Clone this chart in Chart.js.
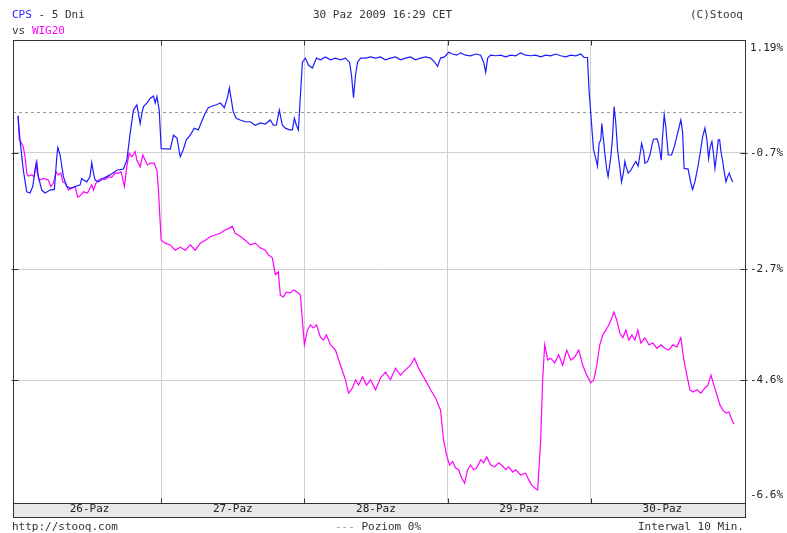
<!DOCTYPE html>
<html>
<head>
<meta charset="utf-8">
<title>CPS vs WIG20 - 5 Dni</title>
<script src="https://cdn.jsdelivr.net/npm/chart.js@4.4.0/dist/chart.umd.min.js"></script>
<style>
  html, body { margin: 0; padding: 0; background: #fff; }
  #wrap { position: relative; width: 787px; height: 533px; font: 11px "DejaVu Sans Mono", monospace; color: #333; }
  #wrap canvas { position: absolute; left: 0; top: 0; }
  .t { position: absolute; white-space: pre; line-height: 13px; }
</style>
</head>
<body>
<div id="wrap">
  <canvas id="chart" width="787" height="533"></canvas>
  <div class="t" style="left:12px;top:8px"><span style="color:#2a2aff">CPS</span> - 5 Dni</div>
  <div class="t" style="left:12px;top:24px">vs <span style="color:#ff00ff">WIG20</span></div>
  <div class="t" style="left:313px;top:8px">30 Paz 2009 16:29 CET</div>
  <div class="t" style="left:690px;top:8px">(C)Stooq</div>
  <div class="t" style="left:12px;top:520px">http://stooq.com</div>
  <div class="t" style="left:335px;top:520px"><span style="color:#999">---</span> Poziom 0%</div>
  <div class="t" style="left:638px;top:520px">Interwal 10 Min.</div>
</div>
<script>
  // ── Data ──────────────────────────────────────────────────────────────────
  // x = trading day (0..5, one unit per session), y = % change
  const dayLabels   = ['26-Paz', '27-Paz', '28-Paz', '29-Paz', '30-Paz'];
  const yTickValues = [1.23, -0.7, -2.7, -4.6, -6.7];
  const yTickLabels = ['1.19%', '-0.7%', '-2.7%', '-4.6%', '-6.6%'];

  const cpsSeries = [
    [0,-0.07],[0.014,-0.48],[0.037,-1.00],[0.061,-1.37],[0.084,-1.39],[0.103,-1.28],[0.119,-1.00],[0.131,-0.86],
    [0.142,-1.11],[0.166,-1.34],[0.189,-1.39],[0.224,-1.34],[0.254,-1.33],[0.271,-0.77],[0.278,-0.61],[0.294,-0.74],
    [0.317,-1.11],[0.341,-1.28],[0.364,-1.31],[0.399,-1.28],[0.434,-1.25],[0.445,-1.14],[0.457,-1.17],[0.480,-1.20],
    [0.503,-1.11],[0.515,-0.87],[0.527,-1.05],[0.538,-1.17],[0.562,-1.20],[0.597,-1.14],[0.643,-1.08],[0.690,-1.00],
    [0.736,-0.98],[0.760,-0.83],[0.783,-0.37],[0.806,0.03],[0.830,0.12],[0.853,-0.20],[0.865,-0.03],[0.876,0.09],
    [0.900,0.15],[0.923,0.23],[0.946,0.27],[0.958,0.15],[0.970,0.26],[0.986,0.03],[1.000,-0.63],
    [1.063,-0.64],[1.086,-0.40],[1.110,-0.45],[1.133,-0.77],[1.154,-0.65],[1.175,-0.48],[1.203,-0.40],[1.231,-0.28],
    [1.259,-0.31],[1.287,-0.14],[1.308,-0.02],[1.329,0.07],[1.357,0.10],[1.385,0.12],[1.413,0.15],[1.441,0.07],
    [1.462,0.24],[1.476,0.41],[1.490,0.20],[1.503,0.00],[1.524,-0.11],[1.552,-0.14],[1.587,-0.17],[1.622,-0.17],
    [1.657,-0.23],[1.692,-0.19],[1.727,-0.21],[1.762,-0.14],[1.783,-0.23],[1.804,-0.23],[1.825,0.03],[1.846,-0.23],
    [1.867,-0.28],[1.895,-0.31],[1.916,-0.31],[1.930,-0.11],[1.944,-0.23],[1.958,-0.31],[1.986,0.85],
    [2.007,0.92],[2.028,0.80],[2.056,0.75],[2.084,0.92],[2.112,0.89],[2.147,0.94],[2.182,0.89],[2.217,0.92],
    [2.252,0.89],[2.287,0.92],[2.315,0.85],[2.329,0.63],[2.343,0.24],[2.357,0.63],[2.371,0.85],[2.392,0.92],
    [2.427,0.92],[2.462,0.94],[2.497,0.92],[2.531,0.94],[2.566,0.89],[2.601,0.92],[2.636,0.94],[2.671,0.89],
    [2.706,0.92],[2.741,0.94],[2.776,0.89],[2.811,0.92],[2.846,0.94],[2.881,0.92],[2.909,0.85],[2.930,0.78],
    [2.951,0.92],[2.979,0.94],
    [3.007,1.02],[3.035,0.99],[3.063,0.97],[3.091,1.01],[3.126,0.97],[3.161,0.96],[3.196,0.99],[3.231,0.97],
    [3.252,0.85],[3.266,0.68],[3.280,0.92],[3.301,0.97],[3.336,0.96],[3.371,0.97],[3.406,0.94],[3.441,0.97],
    [3.476,0.96],[3.510,1.01],[3.545,0.97],[3.580,0.96],[3.615,0.97],[3.650,0.94],[3.685,0.97],[3.720,0.96],
    [3.755,0.99],[3.790,0.96],[3.825,0.94],[3.860,0.97],[3.895,0.96],[3.930,0.99],[3.953,0.93],[3.977,0.93],
    [3.988,0.37],
    [4.000,-0.03],[4.019,-0.65],[4.035,-0.80],[4.047,-0.93],[4.058,-0.54],[4.070,-0.48],[4.077,-0.20],[4.089,-0.48],
    [4.098,-0.71],[4.112,-1.00],[4.121,-1.11],[4.140,-0.77],[4.152,-0.43],[4.163,0.09],[4.175,-0.20],[4.187,-0.65],
    [4.205,-1.00],[4.215,-1.20],[4.229,-1.03],[4.238,-0.85],[4.247,-0.94],[4.261,-1.05],[4.280,-1.00],[4.299,-0.91],
    [4.315,-0.85],[4.331,-0.93],[4.345,-0.71],[4.355,-0.54],[4.369,-0.68],[4.378,-0.88],[4.397,-0.85],[4.413,-0.74],
    [4.427,-0.57],[4.438,-0.47],[4.462,-0.46],[4.473,-0.54],[4.485,-0.71],[4.492,-0.83],[4.501,-0.43],[4.513,-0.05],
    [4.524,-0.26],[4.541,-0.74],[4.564,-0.74],[4.583,-0.60],[4.606,-0.37],[4.629,-0.14],[4.641,-0.34],[4.652,-0.97],
    [4.680,-0.98],[4.699,-1.22],[4.711,-1.33],[4.727,-1.20],[4.746,-0.97],[4.764,-0.71],[4.781,-0.43],[4.797,-0.28],
    [4.811,-0.48],[4.823,-0.80],[4.834,-0.60],[4.846,-0.51],[4.858,-0.74],[4.867,-0.97],[4.879,-0.74],[4.890,-0.48],
    [4.900,-0.48],[4.909,-0.68],[4.921,-0.85],[4.932,-1.03],[4.944,-1.20],[4.956,-1.11],[4.967,-1.05],[4.979,-1.14],
    [4.991,-1.20]
  ];

  const wigSeries = [
    [0,-0.07],[0.009,-0.48],[0.026,-0.54],[0.037,-0.60],[0.049,-0.77],[0.061,-1.05],[0.072,-1.10],[0.096,-1.08],
    [0.112,-1.11],[0.126,-0.88],[0.135,-1.05],[0.149,-1.17],[0.177,-1.14],[0.212,-1.17],[0.229,-1.28],[0.247,-1.22],
    [0.266,-1.03],[0.282,-1.08],[0.299,-1.05],[0.313,-1.20],[0.329,-1.22],[0.352,-1.34],[0.376,-1.31],[0.399,-1.28],
    [0.417,-1.46],[0.434,-1.44],[0.457,-1.37],[0.485,-1.39],[0.515,-1.25],[0.527,-1.34],[0.545,-1.22],[0.562,-1.17],
    [0.585,-1.14],[0.608,-1.16],[0.631,-1.12],[0.655,-1.12],[0.678,-1.05],[0.701,-1.05],[0.720,-1.03],[0.743,-1.28],
    [0.760,-0.94],[0.776,-0.71],[0.795,-0.77],[0.818,-0.68],[0.830,-0.83],[0.853,-0.94],[0.872,-0.74],[0.888,-0.83],
    [0.904,-0.91],[0.923,-0.88],[0.951,-0.88],[0.970,-1.00],[0.981,-1.34],[0.988,-1.68],[1.000,-2.20],
    [1.028,-2.25],[1.063,-2.28],[1.098,-2.37],[1.133,-2.32],[1.168,-2.37],[1.203,-2.28],[1.238,-2.37],[1.273,-2.25],
    [1.308,-2.20],[1.343,-2.14],[1.378,-2.11],[1.413,-2.08],[1.448,-2.02],[1.469,-2.00],[1.497,-1.96],[1.517,-2.08],
    [1.552,-2.13],[1.587,-2.20],[1.622,-2.28],[1.657,-2.25],[1.692,-2.33],[1.727,-2.37],[1.748,-2.45],[1.776,-2.50],
    [1.797,-2.79],[1.818,-2.74],[1.832,-3.14],[1.853,-3.17],[1.874,-3.09],[1.902,-3.10],[1.923,-3.05],[1.951,-3.09],
    [1.972,-3.14],[1.986,-3.57],
    [2.000,-3.99],[2.021,-3.74],[2.042,-3.65],[2.063,-3.70],[2.084,-3.65],[2.112,-3.86],[2.133,-3.91],[2.154,-3.82],
    [2.182,-3.99],[2.217,-4.08],[2.252,-4.34],[2.287,-4.59],[2.308,-4.82],[2.336,-4.73],[2.357,-4.59],[2.378,-4.68],
    [2.406,-4.54],[2.434,-4.68],[2.462,-4.59],[2.497,-4.76],[2.531,-4.56],[2.566,-4.46],[2.601,-4.59],[2.636,-4.39],
    [2.671,-4.51],[2.706,-4.42],[2.741,-4.34],[2.769,-4.22],[2.797,-4.39],[2.825,-4.51],[2.853,-4.63],[2.881,-4.76],
    [2.916,-4.90],[2.951,-5.11],[2.972,-5.62],[2.993,-5.88],
    [3.014,-6.05],[3.035,-5.99],[3.056,-6.10],[3.077,-6.13],[3.098,-6.27],[3.119,-6.36],[3.140,-6.13],[3.161,-6.05],
    [3.182,-6.13],[3.203,-6.10],[3.231,-5.96],[3.252,-6.01],[3.273,-5.91],[3.301,-6.05],[3.329,-6.08],[3.357,-6.01],
    [3.385,-6.07],[3.406,-6.13],[3.427,-6.08],[3.455,-6.17],[3.476,-6.13],[3.510,-6.22],[3.545,-6.19],[3.566,-6.30],
    [3.587,-6.39],[3.608,-6.44],[3.629,-6.48],[3.650,-5.62],[3.664,-4.59],[3.678,-3.99],[3.699,-4.25],[3.720,-4.22],
    [3.748,-4.30],[3.776,-4.16],[3.804,-4.34],[3.832,-4.08],[3.860,-4.25],[3.888,-4.20],[3.916,-4.08],[3.944,-4.34],
    [3.972,-4.51],
    [4.000,-4.64],[4.021,-4.59],[4.042,-4.34],[4.063,-3.99],[4.084,-3.82],[4.105,-3.74],[4.126,-3.65],[4.147,-3.53],
    [4.161,-3.43],[4.182,-3.57],[4.203,-3.79],[4.224,-3.87],[4.245,-3.74],[4.266,-3.91],[4.287,-3.82],[4.308,-3.91],
    [4.329,-3.74],[4.350,-3.96],[4.378,-3.87],[4.406,-3.99],[4.434,-3.96],[4.462,-4.05],[4.490,-3.99],[4.517,-4.05],
    [4.545,-4.08],[4.573,-3.99],[4.601,-4.03],[4.629,-3.87],[4.650,-4.25],[4.671,-4.51],[4.692,-4.76],[4.713,-4.80],
    [4.741,-4.76],[4.769,-4.82],[4.797,-4.73],[4.818,-4.68],[4.839,-4.51],[4.860,-4.68],[4.881,-4.85],[4.902,-5.02],
    [4.923,-5.11],[4.944,-5.16],[4.965,-5.14],[4.986,-5.28],[5.000,-5.35]
  ];

  // ── Axis ranges ───────────────────────────────────────────────────────────
  const X_MIN = -0.035, X_MAX = 5.084;
  const Y_MIN = -6.7,   Y_MAX = 1.23;
  const FONT = { family: '"DejaVu Sans Mono", monospace', size: 11 };
  const GRID = '#cfcfcf';
  const INK  = '#333';

  // ── Frame, bottom band, zero level, inner tick marks ──────────────────────
  const stooqFrame = {
    id: 'stooqFrame',
    beforeDraw(chart) {
      const { ctx, chartArea: a } = chart;
      const xs = chart.scales.x;
      ctx.save();
      ctx.fillStyle = '#e8e8e8';
      ctx.fillRect(a.left, a.bottom, a.right - a.left, xs.bottom - a.bottom);
      ctx.restore();
    },
    beforeDatasetsDraw(chart) {
      const { ctx, chartArea: a } = chart;
      const y0 = Math.round(chart.scales.y.getPixelForValue(0)) + 0.5;
      ctx.save();
      ctx.strokeStyle = '#9a9a9a';
      ctx.lineWidth = 1;
      ctx.setLineDash([3, 3]);
      ctx.beginPath();
      ctx.moveTo(a.left, y0);
      ctx.lineTo(a.right, y0);
      ctx.stroke();
      ctx.restore();
    },
    afterDraw(chart) {
      const { ctx, chartArea: a } = chart;
      const xs = chart.scales.x, ys = chart.scales.y;
      const L = a.left + 0.5, R = a.right - 0.5, T = a.top + 0.5, B = a.bottom + 0.5;
      ctx.save();
      ctx.strokeStyle = INK;
      ctx.lineWidth = 1;
      ctx.strokeRect(L, T, R - L, B - T);
      ctx.strokeRect(L, B, R - L, xs.bottom - a.bottom);
      ctx.beginPath();
      [1, 2, 3, 4].forEach(d => {
        const x = Math.round(xs.getPixelForValue(d)) + 0.5;
        ctx.moveTo(x, T); ctx.lineTo(x, T + 5);
        ctx.moveTo(x, B); ctx.lineTo(x, B - 5);
      });
      yTickValues.slice(1, -1).forEach(v => {
        const y = Math.round(ys.getPixelForValue(v)) + 0.5;
        ctx.moveTo(L - 2, y); ctx.lineTo(L + 5, y);
        ctx.moveTo(R - 5, y); ctx.lineTo(R + 2, y);
      });
      ctx.stroke();
      ctx.restore();
    },
  };

  const toXY = s => s.map(([t, v]) => ({ x: t, y: v }));

  new Chart(document.getElementById('chart'), {
    type: 'line',
    data: {
      datasets: [
        { label: 'CPS',   data: toXY(cpsSeries), borderColor: '#1c1cff', borderWidth: 1.2, pointRadius: 0, tension: 0 },
        { label: 'WIG20', data: toXY(wigSeries), borderColor: '#ff00ff', borderWidth: 1.2, pointRadius: 0, tension: 0 },
      ],
    },
    options: {
      responsive: false,
      animation: false,
      devicePixelRatio: 1,
      layout: { padding: { left: 13, top: 40, right: 0, bottom: 16 } },
      plugins: { legend: { display: false }, tooltip: { enabled: false } },
      scales: {
        x: {
          type: 'linear',
          min: X_MIN, max: X_MAX,
          afterBuildTicks: s => {
            const t = [];
            dayLabels.forEach((_, i) => { t.push({ value: i + 0.5 }); if (i < dayLabels.length - 1) t.push({ value: i + 1 }); });
            s.ticks = t;
          },
          afterFit: s => { s.height = 14; },
          grid: {
            drawTicks: false,
            color: c => (c.tick && Number.isInteger(c.tick.value)) ? GRID : 'rgba(0,0,0,0)',
          },
          border: { display: false },
          ticks: {
            autoSkip: false, maxRotation: 0, padding: 0,
            font: FONT, color: '#222',
            callback: v => Number.isInteger(v) ? '' : dayLabels[Math.floor(v)],
          },
        },
        y: {
          position: 'right',
          min: Y_MIN, max: Y_MAX,
          afterBuildTicks: s => { s.ticks = yTickValues.map(v => ({ value: v })); },
          afterFit: s => { s.width = 41; },
          grid: {
            drawTicks: false,
            color: c => (c.tick && c.tick.value !== Y_MAX && c.tick.value !== Y_MIN) ? GRID : 'rgba(0,0,0,0)',
          },
          border: { display: false },
          ticks: {
            padding: 4,
            font: Object.assign({ lineHeight: 1.45 }, FONT),
            color: '#222',
            callback: v => {
              const lbl = yTickLabels[yTickValues.indexOf(v)];
              if (v === Y_MAX) return ['', lbl];
              if (v === Y_MIN) return [lbl, ''];
              return lbl;
            },
          },
        },
      },
    },
    plugins: [stooqFrame],
  });
</script>
</body>
</html>
